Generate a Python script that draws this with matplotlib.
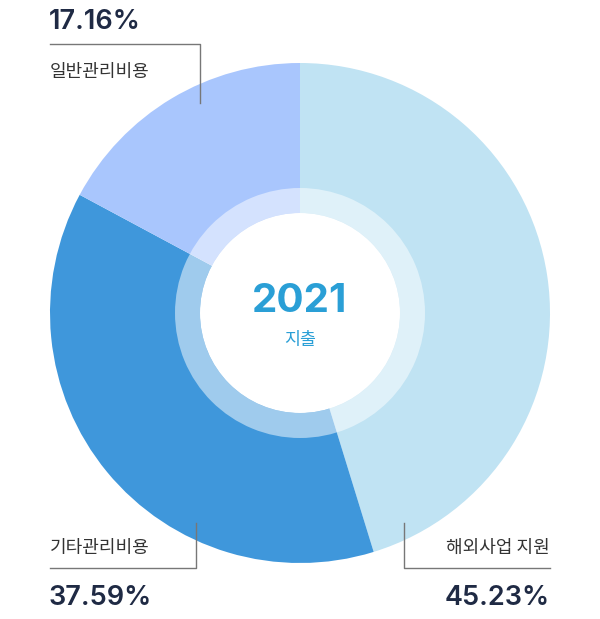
import matplotlib.pyplot as plt
from matplotlib.patches import Circle, Wedge

plt.rcParams['font.family'] = ['Noto Sans CJK KR', 'DejaVu Sans']

labels = ['해외사업 지원', '기타관리비용', '일반관리비용']
values = [45.23, 37.59, 17.16]
colors = ['#c0e3f3', '#3f97db', '#a9c6fd']
pct_texts = ['45.23%', '37.59%', '17.16%']

W, H = 600, 619
cx, cy = 300, H - 313
R = 250

fig = plt.figure(figsize=(6, 6.19), dpi=100)
ax = fig.add_axes([0, 0, 1, 1])

ax.pie(values, colors=colors, startangle=90, counterclock=False,
       radius=R, center=(cx, cy), wedgeprops=dict(linewidth=0))
ax.set_xlim(0, W)
ax.set_ylim(0, H)
ax.set_aspect('equal')
ax.axis('off')

# translucent inner ring + white hole
ax.add_patch(Wedge((cx, cy), 125, 0, 360, width=25, facecolor='white',
                   alpha=0.5, linewidth=0))
ax.add_patch(Circle((cx, cy), 100, facecolor='white', linewidth=0))

num_font = ['Inter', 'DejaVu Sans']
ax.text(cx, H - 301, '2021', ha='center', va='center', fontsize=29,
        fontweight='bold', color='#2a9fd6', family=num_font)
ax.text(cx, H - 340, '지출', ha='center', va='center', fontsize=12.5,
        color='#2a9fd6')

line_kw = dict(color='#777777', linewidth=1)
num_color = '#1f2a44'
lab_color = '#333333'
pct_size = 19.5

# top left: 일반관리비용
ax.plot([50, 200, 200], [H - 44, H - 44, H - 103], **line_kw)
ax.text(49, H - 22, pct_texts[2], ha='left', va='center', fontsize=pct_size,
        fontweight='semibold', color=num_color, family=num_font)
ax.text(50, H - 72, labels[2], ha='left', va='center', fontsize=13,
        color=lab_color)

# bottom left: 기타관리비용
ax.plot([196, 196, 50], [H - 523, H - 568, H - 568], **line_kw)
ax.text(50, H - 548, labels[1], ha='left', va='center', fontsize=13,
        color=lab_color)
ax.text(49, H - 598, pct_texts[1], ha='left', va='center', fontsize=pct_size,
        fontweight='semibold', color=num_color, family=num_font)

# bottom right: 해외사업 지원
ax.plot([404, 404, 550], [H - 523, H - 568, H - 568], **line_kw)
ax.text(550, H - 548, labels[0], ha='right', va='center', fontsize=13,
        color=lab_color)
ax.text(550, H - 598, pct_texts[0], ha='right', va='center', fontsize=pct_size,
        fontweight='semibold', color=num_color, family=num_font)

fig.savefig('out.png', dpi=100)
